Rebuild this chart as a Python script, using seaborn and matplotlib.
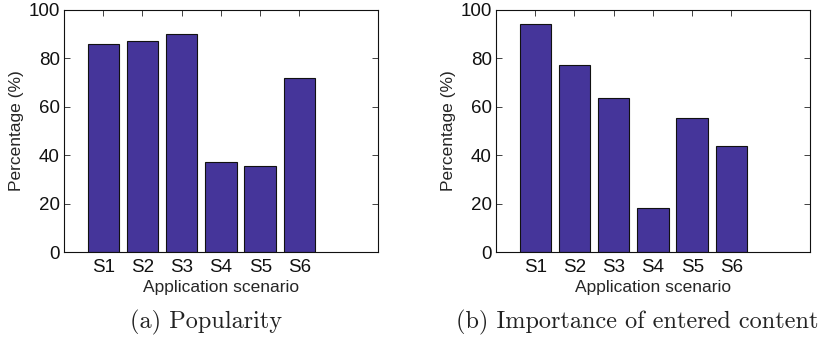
import matplotlib
matplotlib.use('Agg')
import matplotlib.pyplot as plt
import seaborn as sns
import pandas as pd

scenarios = ['S1', 'S2', 'S3', 'S4', 'S5', 'S6']
popularity = [85.8, 87.2, 90.2, 37.1, 35.5, 71.9]
importance = [94.1, 77.1, 63.5, 18.0, 55.2, 43.8]
captions = ['(a) Popularity', '(b) Importance of entered content']

sns.set_style('ticks')
plt.rcParams['font.family'] = ['Liberation Sans', 'DejaVu Sans']

bar_color = '#45359a'

fig = plt.figure(figsize=(8.26, 3.39), dpi=100)
ax1 = fig.add_axes([0.0775, 0.2566, 0.380, 0.714])
ax2 = fig.add_axes([0.6005, 0.2566, 0.380, 0.714])

# caption centres (figure fraction), a bit left of the axes centres
cap_x = [0.249, 0.772]

for ax, vals, cap, cx in zip([ax1, ax2], [popularity, importance], captions, cap_x):
    df = pd.DataFrame({'scenario': scenarios, 'value': vals})
    sns.barplot(data=df, x='scenario', y='value', ax=ax, color=bar_color,
                saturation=1, width=0.8, edgecolor='#111111', linewidth=0.8)
    ax.set_xlim(-1, 7)
    ax.set_ylim(0, 100)
    ax.set_yticks([0, 20, 40, 60, 80, 100])
    ax.set_xticks(range(6))
    ax.set_xticklabels(scenarios)
    ax.tick_params(direction='in', top=True, right=True, length=4, width=0.6,
                   labelsize=13.5, colors='#222222', labelcolor='#111111')
    ax.tick_params(axis='x', pad=5)
    ax.tick_params(axis='y', pad=3)
    ax.set_xlabel('Application scenario', fontsize=12.5, labelpad=3)
    ax.set_ylabel('Percentage (%)', fontsize=12.5, labelpad=3)
    for s in ax.spines.values():
        s.set_visible(True)
        s.set_linewidth(0.8)
        s.set_color('#111111')
    fig.text(cx, 1 - 322 / 339, cap, ha='center', va='center',
             fontsize=17.5, family='cmr10', color='#222222')

fig.savefig('out.png', dpi=100)
